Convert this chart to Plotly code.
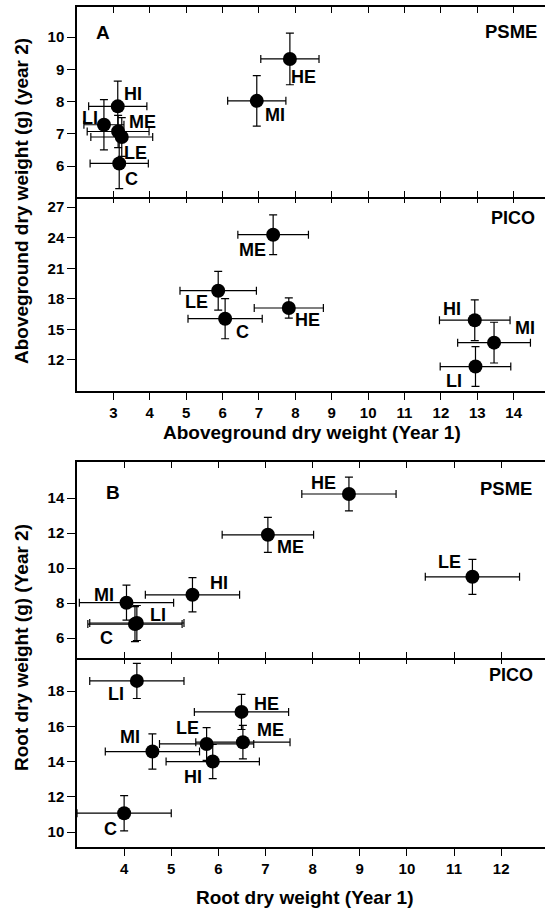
import plotly.graph_objects as go

# ---------------- data ----------------
# Panel A (aboveground dry weight), PSME
a_psme_lab = ["C", "LI", "ME", "LE", "HI", "MI", "HE"]
a_psme_x = [3.16, 2.74, 3.13, 3.23, 3.12, 6.94, 7.85]
a_psme_y = [6.08, 7.28, 7.07, 6.90, 7.85, 8.02, 9.32]
a_psme_xe = [0.80, 0.55, 0.85, 0.85, 0.80, 0.80, 0.80]
a_psme_ye = [0.78, 0.78, 0.50, 0.60, 0.78, 0.78, 0.80]

# Panel A, PICO
a_pico_lab = ["C", "LE", "ME", "HE", "HI", "MI", "LI"]
a_pico_x = [6.07, 5.88, 7.39, 7.82, 12.93, 13.46, 12.95]
a_pico_y = [16.05, 18.8, 24.3, 17.1, 15.9, 13.7, 11.35]
a_pico_xe = [1.02, 1.05, 0.97, 0.95, 0.97, 1.0, 0.97]
a_pico_ye = [1.97, 1.9, 1.95, 1.0, 2.0, 2.0, 1.95]

# Panel B (root dry weight), PSME
b_psme_lab = ["MI", "HI", "LI", "C", "ME", "HE", "LE"]
b_psme_x = [4.05, 5.45, 4.27, 4.23, 7.05, 8.77, 11.39]
b_psme_y = [8.02, 8.47, 6.86, 6.80, 11.9, 14.23, 9.5]
b_psme_xe = [1.0, 1.0, 1.0, 1.0, 0.97, 1.0, 1.0]
b_psme_ye = [1.0, 0.98, 1.0, 1.0, 1.0, 0.96, 1.0]

# Panel B, PICO
b_pico_lab = ["LI", "HE", "ME", "LE", "HI", "MI", "C"]
b_pico_x = [4.27, 6.49, 6.52, 5.75, 5.88, 4.60, 4.00]
b_pico_y = [18.58, 16.82, 15.1, 15.0, 14.0, 14.57, 11.07]
b_pico_xe = [1.0, 1.0, 1.0, 1.0, 0.99, 1.0, 1.0]
b_pico_ye = [1.0, 1.0, 0.95, 0.93, 0.97, 1.0, 1.0]

a_xticks = [3, 4, 5, 6, 7, 8, 9, 10, 11, 12, 13, 14]
b_xticks = [4, 5, 6, 7, 8, 9, 10, 11, 12]
a_psme_yticks = [6, 7, 8, 9, 10]
a_pico_yticks = [12, 15, 18, 21, 24, 27]
b_psme_yticks = [6, 8, 10, 12, 14]
b_pico_yticks = [10, 12, 14, 16, 18]

# label offsets (px) relative to each point: (dx, dy-up)
a_psme_off = [(12, -16), (-14, 7), (24, 10), (14, -16), (15, 12), (18, -14), (14, -18)]
a_pico_off = [(17, -13), (-22, -11), (-21, -15), (19, -12), (-23, 11), (31, 15), (-21, -14)]
b_psme_off = [(-22, 8), (27, 12), (21, 8), (-28, -14), (23, -12), (-25, 11), (-23, 15)]
b_pico_off = [(-21, -13), (25, 8), (28, 12), (-19, 16), (-20, -15), (-22, 15), (-14, -16)]

FONT = "Liberation Sans, Arial, Helvetica, sans-serif"
W, H = 545, 909
LEFT = 77 / W


def pdom(top_px, bot_px):
    return [1 - bot_px / H, 1 - top_px / H]


fig = go.Figure()

panels = [
    (a_psme_lab, a_psme_x, a_psme_y, a_psme_xe, a_psme_ye, a_psme_off, "x", "y"),
    (a_pico_lab, a_pico_x, a_pico_y, a_pico_xe, a_pico_ye, a_pico_off, "x2", "y2"),
    (b_psme_lab, b_psme_x, b_psme_y, b_psme_xe, b_psme_ye, b_psme_off, "x3", "y3"),
    (b_pico_lab, b_pico_x, b_pico_y, b_pico_xe, b_pico_ye, b_pico_off, "x4", "y4"),
]

annotations = []
for lab, xs, ys, xe, ye, off, xa, ya in panels:
    fig.add_trace(go.Scatter(
        x=xs, y=ys, xaxis=xa, yaxis=ya, mode="markers",
        marker=dict(size=14, color="black"),
        error_x=dict(type="data", array=xe, color="black", thickness=1.2, width=4),
        error_y=dict(type="data", array=ye, color="black", thickness=1.2, width=4),
        hoverinfo="skip", showlegend=False,
    ))
    for l, xv, yv, (dx, dy) in zip(lab, xs, ys, off):
        annotations.append(dict(
            x=xv, y=yv, xref=xa, yref=ya, text=l, showarrow=False,
            xshift=dx, yshift=dy, xanchor="center", yanchor="middle",
            font=dict(family=FONT, size=18, color="black", weight="bold"),
        ))

# empty traces so that the extra tick-only overlay axes get drawn
fig.add_trace(go.Scatter(x=[], y=[], xaxis="x5", yaxis="y2", showlegend=False))
fig.add_trace(go.Scatter(x=[], y=[], xaxis="x6", yaxis="y4", showlegend=False))

tickfont = dict(family=FONT, size=15, color="black", weight="bold")

a_xrange = [2.0, 14.86]
b_xrange = [3.0, 12.93]

dA1 = pdom(7, 197)
dA2 = pdom(197, 391)
dB1 = pdom(462, 658)
dB2 = pdom(658, 847)

common_x = dict(domain=[LEFT, 1], showgrid=False, zeroline=False, linecolor="black",
                linewidth=1.5, tickcolor="black", tickwidth=1.2, tickfont=tickfont)
common_y = dict(showgrid=False, zeroline=False, showline=True, linecolor="black",
                linewidth=1.5, ticks="outside", ticklen=8, tickcolor="black", tickwidth=1.2,
                tickfont=tickfont)

fig.update_layout(
    width=W, height=H, margin=dict(l=0, r=0, t=0, b=0),
    paper_bgcolor="white", plot_bgcolor="rgba(0,0,0,0)", showlegend=False,
    xaxis=dict(common_x, anchor="y", range=a_xrange, tickvals=a_xticks, showline=True,
               mirror="ticks", ticks="inside", ticklen=6, showticklabels=False),
    xaxis2=dict(common_x, anchor="y2", range=a_xrange, tickvals=a_xticks, showline=True,
                ticks="outside", ticklen=7, showticklabels=True),
    xaxis5=dict(common_x, anchor="y2", overlaying="x2", side="top", range=a_xrange,
                tickvals=a_xticks, showline=False, ticks="inside", ticklen=6,
                showticklabels=False),
    xaxis3=dict(common_x, anchor="y3", range=b_xrange, tickvals=b_xticks, showline=True,
                mirror="ticks", ticks="inside", ticklen=6, showticklabels=False),
    xaxis4=dict(common_x, anchor="y4", range=b_xrange, tickvals=b_xticks, showline=True,
                ticks="outside", ticklen=7, showticklabels=True),
    xaxis6=dict(common_x, anchor="y4", overlaying="x4", side="top", range=b_xrange,
                tickvals=b_xticks, showline=False, ticks="inside", ticklen=6,
                showticklabels=False),
    yaxis=dict(common_y, anchor="x", domain=dA1, range=[5.04, 10.93], tickvals=a_psme_yticks),
    yaxis2=dict(common_y, anchor="x2", domain=dA2, range=[8.95, 28.0], tickvals=a_pico_yticks),
    yaxis3=dict(common_y, anchor="x3", domain=dB1, range=[4.86, 16.06], tickvals=b_psme_yticks),
    yaxis4=dict(common_y, anchor="x4", domain=dB2, range=[9.15, 19.88], tickvals=b_pico_yticks),
)


def bold(s):
    return dict(family=FONT, size=s, color="black", weight="bold")


def paper_text(px, py, text, size, angle=0, xanchor="center"):
    return dict(x=px / W, y=1 - py / H, xref="paper", yref="paper", text=text,
                showarrow=False, xanchor=xanchor, yanchor="middle", textangle=angle,
                font=bold(size))


annotations += [
    paper_text(103, 32, "A", 19),
    paper_text(113, 492, "B", 19),
    paper_text(539, 31, "PSME", 18.5, xanchor="right"),
    paper_text(537, 218, "PICO", 18, xanchor="right"),
    paper_text(534, 489, "PSME", 18.5, xanchor="right"),
    paper_text(535, 675, "PICO", 18, xanchor="right"),
    paper_text(312, 432, "Aboveground dry weight (Year 1)", 19),
    paper_text(304, 897, "Root dry weight (Year 1)", 19),
    paper_text(21, 201, "Aboveground dry weight (g) (year 2)", 19, angle=-90),
    paper_text(21, 648, "Root dry weight (g) (Year 2)", 19, angle=-90),
]
fig.update_layout(annotations=annotations)

fig.write_html("out.html")
